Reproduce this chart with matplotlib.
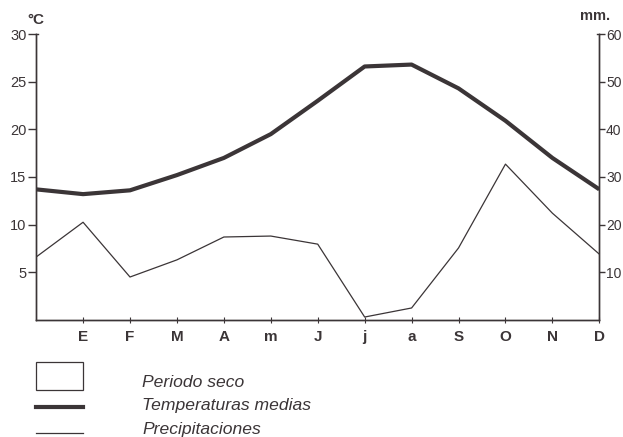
import matplotlib.pyplot as plt
from matplotlib.patches import Rectangle
from matplotlib.lines import Line2D

plt.rcParams['font.family'] = ['Liberation Sans', 'DejaVu Sans']

# month positions: 0 is the left edge (previous December), then E..D
months = ['E', 'F', 'M', 'A', 'm', 'J', 'j', 'a', 'S', 'O', 'N', 'D']
temp_c = [13.7, 13.2, 13.6, 15.2, 17.0, 19.5, 23.0, 26.6, 26.8, 24.3, 20.9, 17.0, 13.7]
precip_mm = [13.2, 20.5, 9.0, 12.6, 17.4, 17.6, 15.9, 0.6, 2.5, 15.1, 32.7, 22.4, 13.8]

ink = '#3b3537'

fig = plt.figure(figsize=(6.23, 4.37), dpi=100)
ax = fig.add_axes([0.058, 0.268, 0.904, 0.654])
ax2 = ax.twinx()

x = list(range(len(temp_c)))
ax.plot(x, temp_c, color=ink, lw=3.0, solid_capstyle='butt', zorder=3)
ax2.plot(x, precip_mm, color=ink, lw=0.9, zorder=3)

ax.set_xlim(0, 12)
ax.set_ylim(0, 30)
ax2.set_ylim(0, 60)

ax.set_yticks([5, 10, 15, 20, 25, 30])
ax2.set_yticks([10, 20, 30, 40, 50, 60])
ax.set_xticks(range(1, 13))
ax.set_xticklabels(months)

for a in (ax, ax2):
    a.spines['top'].set_visible(False)
    for s in a.spines.values():
        s.set_color(ink)
        s.set_linewidth(1.0)

# small hooks at the top of both vertical axes
ax.plot([0, 0.04], [30, 30], color=ink, lw=1.0, clip_on=False)
ax2.plot([11.96, 12], [60, 60], color=ink, lw=1.0, clip_on=False)

ax.tick_params(axis='y', direction='out', length=6, width=1.0, color=ink,
               labelsize=10.5, labelcolor=ink, pad=1)
ax2.tick_params(axis='y', direction='out', length=4.3, width=1.0, color=ink,
                labelsize=10, labelcolor=ink, pad=0.5)
ax.tick_params(axis='x', direction='inout', length=4, width=0.8, color=ink,
               labelsize=11, labelcolor=ink, pad=5)
for lbl in ax.get_xticklabels():
    lbl.set_fontweight('bold')

fig.text(0.058, 0.945, '°C', fontsize=11, fontweight='bold', color=ink, ha='center')
fig.text(0.955, 0.955, 'mm.', fontsize=10.5, fontweight='bold', color=ink, ha='center')

# legend drawn by hand under the plot
fig.patches.append(Rectangle((0.058, 0.108), 0.076, 0.064, transform=fig.transFigure,
                             fill=False, edgecolor=ink, lw=0.9))
fig.lines.append(Line2D([0.058, 0.134], [0.068, 0.068], transform=fig.transFigure,
                        color=ink, lw=3.0))
fig.lines.append(Line2D([0.058, 0.134], [0.009, 0.009], transform=fig.transFigure,
                        color=ink, lw=0.9))
legend_items = ['Periodo seco', 'Temperaturas medias', 'Precipitaciones']
for txt, yy in zip(legend_items, [0.124, 0.071, 0.018]):
    fig.text(0.228, yy, txt, fontsize=12.6, fontstyle='italic', color=ink, va='center')

fig.savefig('out.png', dpi=100)
